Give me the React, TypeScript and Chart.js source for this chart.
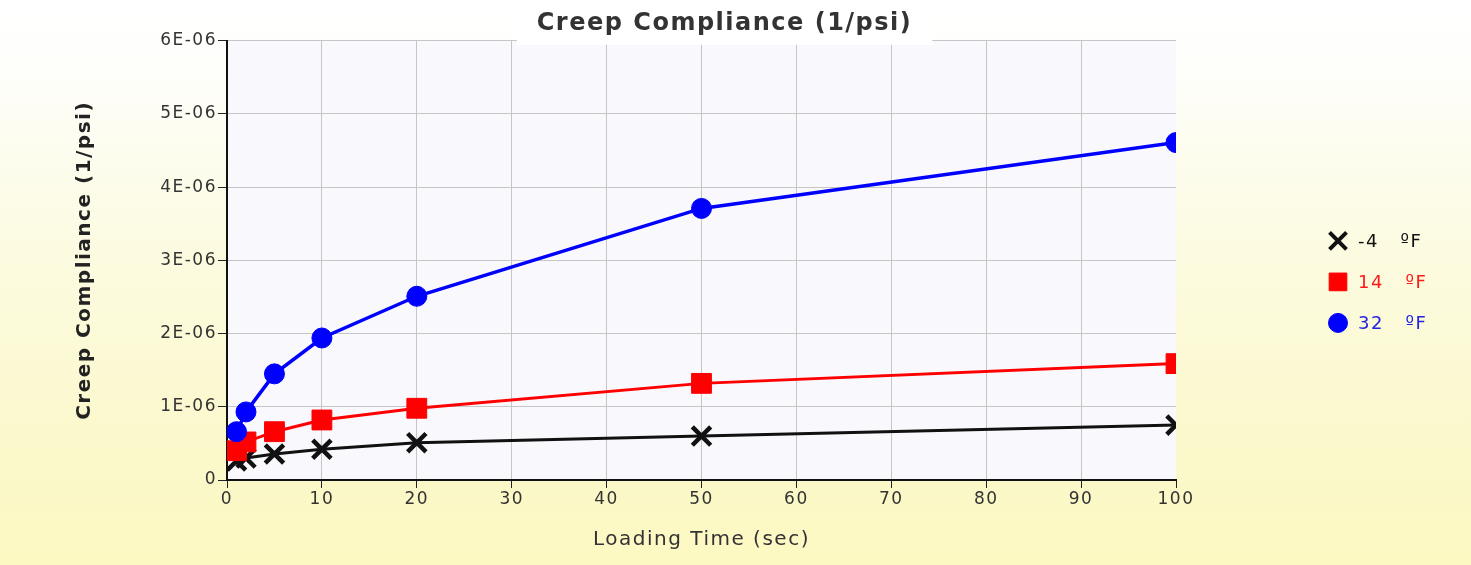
import React, { useEffect, useRef } from 'react';
import { Chart, registerables, layouts } from 'chart.js';
import { drawPoint } from 'chart.js/helpers';

Chart.register(...registerables);

// ---------- data ----------
const loadingTimes = [1, 2, 5, 10, 20, 50, 100];
const seriesNames = ['-4   ºF', '14   ºF', '32   ºF'];
const complianceMinus4F = [0.26e-6, 0.3e-6, 0.355e-6, 0.42e-6, 0.51e-6, 0.6e-6, 0.75e-6];
const compliance14F = [0.4e-6, 0.52e-6, 0.66e-6, 0.82e-6, 0.98e-6, 1.32e-6, 1.59e-6];
const compliance32F = [0.66e-6, 0.93e-6, 1.45e-6, 1.94e-6, 2.51e-6, 3.71e-6, 4.61e-6];
const xTickLabels = ['0', '10', '20', '30', '40', '50', '60', '70', '80', '90', '100'];
const yTickLabels = ['0', '1E-06', '2E-06', '3E-06', '4E-06', '5E-06', '6E-06'];
const chartTitle = 'Creep Compliance (1/psi)';
const xAxisTitle = 'Loading Time (sec)';
const yAxisTitle = 'Creep Compliance (1/psi)';

const FONT = '"DejaVu Sans", Verdana, sans-serif';
const TITLE_SIZE = 24;
const LEGEND_SIZE = 18;
const LETTER_SPACING = '1.5px';

function applySpacing(chart: any) {
  const ctx = chart.ctx;
  if (ctx && 'letterSpacing' in ctx) ctx.letterSpacing = LETTER_SPACING;
}

function drawTitleBackdrop(chart: any) {
  const tb = chart.titleBlock;
  if (!tb || !chart.chartArea) return;
  const ctx = chart.ctx;
  ctx.save();
  ctx.font = `bold ${TITLE_SIZE}px ${FONT}`;
  const w = ctx.measureText(chartTitle).width;
  const cx = (tb.left + tb.right) / 2;
  ctx.fillStyle = '#ffffff';
  ctx.fillRect(cx - w / 2 - 20, tb.top + 2, w + 40, chart.chartArea.top + 4 - tb.top - 2);
  ctx.restore();
}

function drawLegend(chart: any, box: any) {
  const ctx = chart.ctx;
  const area = chart.chartArea;
  const x0 = box.left + 162;
  const yMid = (area.top + area.bottom) / 2 + 21.5;
  chart.data.datasets.forEach((ds: any, i: number) => {
    const y = yMid + (i - 1) * 41;
    ctx.save();
    ctx.strokeStyle = ds.pointBorderColor;
    ctx.fillStyle = ds.pointBackgroundColor;
    ctx.lineWidth = ds.legendBorderWidth;
    drawPoint(ctx, { pointStyle: ds.pointStyle, radius: ds.legendRadius, rotation: 0, borderWidth: ds.legendBorderWidth }, x0, y);
    ctx.fillStyle = ds.legendTextColor;
    ctx.font = `${LEGEND_SIZE}px ${FONT}`;
    ctx.textAlign = 'left';
    ctx.textBaseline = 'middle';
    ctx.fillText(ds.label, x0 + 20, y + 1);
    ctx.restore();
  });
}

const backgroundPlugin = {
  id: 'bgPaint',
  beforeLayout(chart: any) {
    applySpacing(chart);
  },
  beforeDraw(chart: any) {
    applySpacing(chart);
    const { ctx, width, height, chartArea } = chart;
    ctx.save();
    const g = ctx.createLinearGradient(0, 0, 0, height);
    g.addColorStop(0, '#ffffff');
    g.addColorStop(0.12, '#fefefb');
    g.addColorStop(0.45, '#fcfbe0');
    g.addColorStop(0.8, '#fbf8cb');
    g.addColorStop(1, '#fcf9c2');
    ctx.fillStyle = g;
    ctx.fillRect(0, 0, width, height);
    ctx.fillStyle = '#f9f8fc';
    ctx.fillRect(chartArea.left, chartArea.top, chartArea.right - chartArea.left, chartArea.bottom - chartArea.top);
    ctx.restore();
  },
};

const sideLegendPlugin = {
  id: 'sideLegend',
  beforeInit(chart: any) {
    const box: any = {
      position: 'right',
      weight: 1000,
      fullSize: false,
      options: {},
      top: 0, left: 0, right: 0, bottom: 0, width: 0, height: 0,
      isHorizontal() { return false; },
      update(_maxWidth: number, maxHeight: number) {
        box.width = 273;
        box.height = maxHeight;
      },
      draw() {},
      _layers() {
        return [
          { z: -0.5, draw: () => drawTitleBackdrop(chart) },
          { z: 0, draw: () => drawLegend(chart, box) },
        ];
      },
    };
    layouts.addBox(chart, box);
  },
};

export default function App() {
  const canvasRef = useRef<HTMLCanvasElement | null>(null);

  useEffect(() => {
    if (!canvasRef.current) return;
    const toPoints = (vals: number[]) => loadingTimes.map((x, i) => ({ x, y: vals[i] }));

    const chart = new Chart(canvasRef.current, {
      type: 'line',
      data: {
        datasets: [
          {
            label: seriesNames[0],
            data: toPoints(complianceMinus4F),
            borderColor: '#111111',
            backgroundColor: '#111111',
            pointBorderColor: '#111111',
            pointBackgroundColor: '#111111',
            borderWidth: 3,
            pointStyle: 'crossRot',
            pointRadius: 13,
            pointBorderWidth: 4.5,
            tension: 0,
            clip: 0,
            order: 3,
            legendRadius: 12,
            legendBorderWidth: 4,
            legendTextColor: '#111111',
          } as any,
          {
            label: seriesNames[1],
            data: toPoints(compliance14F),
            borderColor: '#ff0000',
            backgroundColor: '#ff0000',
            pointBorderColor: '#ff0000',
            pointBackgroundColor: '#ff0000',
            borderWidth: 3,
            pointStyle: 'rect',
            pointRadius: 14,
            pointBorderWidth: 1,
            tension: 0,
            clip: 0,
            order: 2,
            legendRadius: 12.5,
            legendBorderWidth: 1,
            legendTextColor: '#ff1a1a',
          } as any,
          {
            label: seriesNames[2],
            data: toPoints(compliance32F),
            borderColor: '#0000ff',
            backgroundColor: '#0000ff',
            pointBorderColor: '#0000ff',
            pointBackgroundColor: '#0000ff',
            borderWidth: 3.5,
            pointStyle: 'circle',
            pointRadius: 10,
            pointBorderWidth: 1,
            tension: 0,
            clip: 0,
            order: 1,
            legendRadius: 9.5,
            legendBorderWidth: 1,
            legendTextColor: '#2424e0',
          } as any,
        ],
      },
      options: {
        animation: false,
        responsive: true,
        maintainAspectRatio: false,
        layout: { padding: { left: 0, right: 22, top: 0, bottom: 0 } },
        plugins: {
          legend: { display: false },
          tooltip: { enabled: false },
          title: {
            display: true,
            text: chartTitle,
            color: '#333333',
            font: { family: FONT, size: TITLE_SIZE, weight: 'bold' },
            padding: { top: 9, bottom: 3 },
          },
        },
        scales: {
          x: {
            type: 'linear',
            min: 0,
            max: 100,
            afterFit: (s: any) => { s.height = 85; },
            ticks: {
              stepSize: 10,
              autoSkip: false,
              maxRotation: 0,
              padding: 1,
              color: '#333333',
              font: { family: FONT, size: 17 },
              callback: (_v: any, i: number) => xTickLabels[i],
            },
            grid: {
              z: -1,
              color: (c: any) => (c.tick && c.tick.value === 100 ? 'rgba(0,0,0,0)' : '#c6c6c6'),
              tickColor: '#222222',
              tickLength: 8,
              lineWidth: 1,
            },
            border: { color: '#111111', width: 2 },
            title: {
              display: true,
              text: xAxisTitle,
              color: '#333333',
              font: { family: FONT, size: 20 },
              padding: { top: 0, bottom: 13 },
            },
          },
          y: {
            type: 'linear',
            min: 0,
            max: 6e-6,
            afterFit: (s: any) => { s.width = 227; },
            ticks: {
              stepSize: 1e-6,
              padding: 1,
              color: '#333333',
              font: { family: FONT, size: 17 },
              callback: (_v: any, i: number) => yTickLabels[i],
            },
            grid: {
              z: -1,
              color: '#c6c6c6',
              tickColor: '#222222',
              tickLength: 9,
              lineWidth: 1,
            },
            border: { color: '#111111', width: 2 },
            title: {
              display: true,
              text: yAxisTitle,
              color: '#222222',
              font: { family: FONT, size: 20, weight: 'bold' },
              padding: { top: 73, bottom: 0 },
            },
          },
        },
      } as any,
      plugins: [backgroundPlugin, sideLegendPlugin] as any,
    });

    return () => chart.destroy();
  }, []);

  return (
    <div style={{ position: 'fixed', left: 0, top: 0, width: '1471px', height: '565px' }}>
      <canvas ref={canvasRef} />
    </div>
  );
}
